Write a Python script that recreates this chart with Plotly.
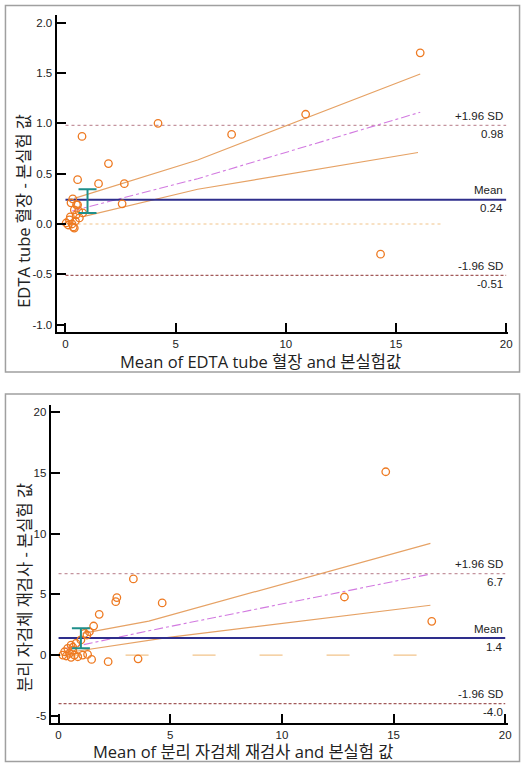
import plotly.graph_objects as go

W, H = 529, 767

# ---------------- data: top panel (EDTA tube 혈장 vs 본실험) ----------------
top_mean = [16.1, 10.9, 7.54, 4.2, 14.3, 0.75, 1.95, 0.55, 1.5, 2.67, 2.57,
            0.03, 0.18, 0.40, 0.48, 0.63, 0.25, 0.55, 0.33, 0.40, 0.78, 0.12,
            0.30, 0.45, 0.22, 0.60, 0.35, 0.50]
top_diff = [1.70, 1.09, 0.89, 1.00, -0.30, 0.87, 0.60, 0.44, 0.40, 0.40, 0.20,
            0.01, 0.04, -0.04, 0.09, 0.06, 0.21, 0.19, 0.25, 0.14, 0.11, -0.01,
            0.00, 0.03, 0.07, 0.13, -0.03, 0.19]
top_reg_x = [0.3, 6.0, 16.1]
top_reg_y = [0.13, 0.45, 1.11]
top_ci_hi_x = [0.4, 6.0, 16.1]
top_ci_hi_y = [0.255, 0.636, 1.49]
top_ci_lo_x = [0.8, 6.0, 16.0]
top_ci_lo_y = [0.073, 0.345, 0.71]
top_avg, top_upper, top_lower = 0.24, 0.98, -0.51
top_avg_ci = [0.11, 0.345]
top_zero_end = 17.1
top_yticks = [-1.0, -0.5, 0.0, 0.5, 1.0, 1.5, 2.0]
top_yticktext = ["-1.0", "-0.5", "0.0", "0.5", "1.0", "1.5", "2.0"]
top_xtitle = "Mean of EDTA tube 혈장 and 본실험값"
top_ytitle = "EDTA tube 혈장 - 본실험 값"

# ---------------- data: bottom panel (분리 자검체 재검사 vs 본실험) ----------------
bot_mean = [14.65, 4.64, 12.8, 16.71, 3.35, 2.61, 2.56, 1.82, 1.57, 1.38, 1.27,
            1.16, 1.0, 0.78, 0.64, 1.3, 1.48, 2.22, 3.56, 0.19, 0.34, 0.49, 0.56,
            0.71, 0.86, 0.27, 0.64, 0.41, 1.08, 0.56]
bot_diff = [15.1, 4.29, 4.78, 2.78, 6.27, 4.73, 4.40, 3.35, 2.39, 1.92, 1.65,
            1.78, 1.24, 0.96, 0.64, 0.05, -0.36, -0.55, -0.31, 0.0, -0.08, 0.14,
            -0.19, 0.0, -0.14, 0.27, 0.41, 0.55, 0.0, 0.82]
bot_reg_x = [0.34, 4.04, 16.6]
bot_reg_y = [0.55, 2.0, 6.65]
bot_ci_hi_x = [1.08, 4.04, 16.65]
bot_ci_hi_y = [1.78, 2.8, 9.2]
bot_ci_lo_x = [0.64, 4.93, 16.65]
bot_ci_lo_y = [0.27, 1.46, 4.1]
bot_avg, bot_upper, bot_lower = 1.4, 6.7, -4.0
bot_avg_ci = [0.55, 2.2]
bot_zero_end = 17.8
bot_yticks = [-5, 0, 5, 10, 15, 20]
bot_yticktext = ["-5", "0", "5", "10", "15", "20"]
bot_xtitle = "Mean of 분리 자검체 재검사 and 본실험 값"
bot_ytitle = "분리 자검체 재검사 - 본실험 값"

xticks = [0, 5, 10, 15, 20]
line_x_range = [0, 20]
ci_x = 1.0

# ---------------- styles ----------------
C_PT = "#ee7a22"
C_CI = "#e6a265"
C_REG = "#d27ae0"
C_MEAN = "#2e2e8c"
C_UP = "#c4949e"
C_LO = "#a25a5a"
C_ZERO = "#f2c48a"
C_ERR = "#1f8f8a"
LAT = "Liberation Sans, Arial, sans-serif"
KR = "Open Sans, Noto Sans CJK KR, sans-serif"

fig = go.Figure()


def add_panel(xa, ya, mx, dy, rx, ry, hx, hy, lx, ly, avg, up, lo, avg_ci,
              zero_end, zero_dash):
    xs = "x" if xa == 1 else "x%d" % xa
    ys = "y" if ya == 1 else "y%d" % ya
    kw = dict(xaxis=xs, yaxis=ys, showlegend=False, hoverinfo="skip")
    fig.add_trace(go.Scatter(x=[0, zero_end], y=[0, 0], mode="lines",
                             line=dict(color=C_ZERO, width=1.2, dash=zero_dash), **kw))
    fig.add_trace(go.Scatter(x=line_x_range, y=[up, up], mode="lines",
                             line=dict(color=C_UP, width=1.3, dash="dot"), **kw))
    fig.add_trace(go.Scatter(x=line_x_range, y=[lo, lo], mode="lines",
                             line=dict(color=C_LO, width=1.1, dash="3px,2px"), **kw))
    fig.add_trace(go.Scatter(x=hx, y=hy, mode="lines",
                             line=dict(color=C_CI, width=1.2), **kw))
    fig.add_trace(go.Scatter(x=lx, y=ly, mode="lines",
                             line=dict(color=C_CI, width=1.2), **kw))
    fig.add_trace(go.Scatter(x=rx, y=ry, mode="lines",
                             line=dict(color=C_REG, width=1.1, dash="dashdot"), **kw))
    fig.add_trace(go.Scatter(x=line_x_range, y=[avg, avg], mode="lines",
                             line=dict(color=C_MEAN, width=2), **kw))
    fig.add_trace(go.Scatter(x=mx, y=dy, mode="markers",
                             marker=dict(symbol="circle-open", size=7.5,
                                         color=C_PT, line=dict(width=1.3, color=C_PT)), **kw))
    mid = (avg_ci[0] + avg_ci[1]) / 2
    fig.add_trace(go.Scatter(x=[ci_x], y=[mid], mode="markers",
                             marker=dict(size=1, color="rgba(0,0,0,0)"),
                             error_y=dict(type="data", symmetric=False,
                                          array=[avg_ci[1] - mid],
                                          arrayminus=[mid - avg_ci[0]],
                                          color=C_ERR, thickness=2, width=9), **kw))


add_panel(1, 1, top_mean, top_diff, top_reg_x, top_reg_y, top_ci_hi_x, top_ci_hi_y,
          top_ci_lo_x, top_ci_lo_y, top_avg, top_upper, top_lower, top_avg_ci,
          top_zero_end, "dot")
add_panel(2, 2, bot_mean, bot_diff, bot_reg_x, bot_reg_y, bot_ci_hi_x, bot_ci_hi_y,
          bot_ci_lo_x, bot_ci_lo_y, bot_avg, bot_upper, bot_lower, bot_avg_ci,
          bot_zero_end, "23px,44px")

axis_common = dict(showline=True, linecolor="black", linewidth=2, ticks="inside",
                   ticklen=9, tickwidth=2, tickcolor="black", showgrid=False,
                   zeroline=False, tickfont=dict(family=LAT, size=11.5, color="#222"))


def px_x(p):
    return p / W


def px_y(p):
    return 1 - p / H


fig.update_layout(
    width=W, height=H, margin=dict(l=0, r=0, t=0, b=0),
    paper_bgcolor="white", plot_bgcolor="white",
    xaxis=dict(domain=[px_x(57), px_x(512)], range=[-0.405, 20.09], anchor="y",
               tickvals=xticks, **axis_common),
    yaxis=dict(domain=[px_y(332), px_y(15)], range=[-1.0725, 2.0755], anchor="x",
               tickvals=top_yticks, ticktext=top_yticktext, **axis_common),
    xaxis2=dict(domain=[px_x(51), px_x(512)], range=[-0.356, 20.13], anchor="y2",
                tickvals=xticks, **axis_common),
    yaxis2=dict(domain=[px_y(723), px_y(405)], range=[-5.6, 20.6], anchor="x2",
                tickvals=bot_yticks, ticktext=bot_yticktext, **axis_common),
)

ann = []
title_font = dict(family=KR, size=16.5, color="#222")
ann.append(dict(text=top_xtitle, xref="paper", yref="paper", x=px_x(262), y=px_y(361),
                xanchor="center", yanchor="middle", showarrow=False, font=title_font))
ann.append(dict(text=top_ytitle, xref="paper", yref="paper", x=px_x(24), y=px_y(211),
                xanchor="center", yanchor="middle", showarrow=False, textangle=-90,
                font=title_font))
ann.append(dict(text=bot_xtitle, xref="paper", yref="paper", x=px_x(245), y=px_y(751),
                xanchor="center", yanchor="middle", showarrow=False, font=title_font))
ann.append(dict(text=bot_ytitle, xref="paper", yref="paper", x=px_x(24), y=px_y(587),
                xanchor="center", yanchor="middle", showarrow=False, textangle=-90,
                font=title_font))

lab_font = dict(family=LAT, size=11.5, color="#222")


def lim_labels(yref, up, avg, lo, fmt):
    out = []
    for name, v in (("+1.96 SD", up), ("Mean", avg), ("-1.96 SD", lo)):
        out.append(dict(text=name, xref="paper", yref=yref, x=px_x(509), y=v,
                        xanchor="right", yanchor="middle", yshift=9.5,
                        showarrow=False, font=lab_font))
        out.append(dict(text=fmt.format(v), xref="paper", yref=yref, x=px_x(509), y=v,
                        xanchor="right", yanchor="middle", yshift=-8.5,
                        showarrow=False, font=lab_font))
    return out


ann += lim_labels("y", top_upper, top_avg, top_lower, "{:.2f}")
ann += lim_labels("y2", bot_upper, bot_avg, bot_lower, "{:.1f}")
fig.update_layout(annotations=ann)

shapes = [
    dict(type="rect", xref="paper", yref="paper", x0=px_x(5.5), x1=px_x(523.5),
         y0=px_y(372), y1=px_y(5.5), line=dict(color="#a0a0a0", width=1.5)),
    dict(type="rect", xref="paper", yref="paper", x0=px_x(5.5), x1=px_x(523.5),
         y0=px_y(761.5), y1=px_y(394), line=dict(color="#a0a0a0", width=1.5)),
]
fig.update_layout(shapes=shapes)

fig.write_html("out.html")
